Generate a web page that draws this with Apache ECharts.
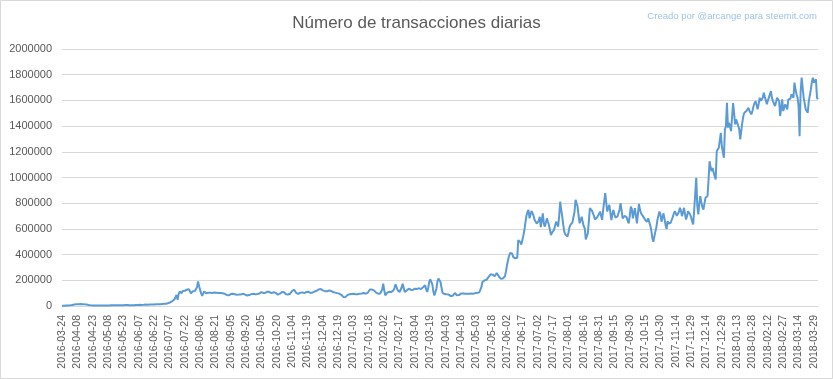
<!DOCTYPE html>
<html>
<head>
<meta charset="utf-8">
<script src="https://cdn.jsdelivr.net/npm/echarts@6/dist/echarts.min.js"></script>
<style>
html,body{margin:0;padding:0;background:#fff;}
#chart{width:833px;height:379px;}
</style>
</head>
<body>
<div id="chart"></div>
<script>
// Chart texts
const titleText = "Número de transacciones diarias";
const creditText = "Creado por @arcange para steemit.com";

// Category range: daily dates
const startDate = "2016-03-24";
const dayCount = 740; // 2016-03-24 .. 2018-04-02

// Y axis ticks
const yMin = 0;
const yMax = 2000000;
const yStep = 200000;

// Daily transaction counts, in 15-day blocks starting 2016-03-24
const tx2016a = [
  2500,3100,2800,3400,3900,3600,4200,4800,5100,6300,7900,9800,11200,12600,13100,
  13800,14200,13500,14600,13900,14100,13200,12800,13600,12100,10400,8200,6100,5300,4800,
  4500,4200,4600,4100,3900,4300,4000,3800,4400,4100,3900,4200,4000,4300,4500,
  4400,4700,4300,4900,4600,5000,4800,5200,4900,5300,5100,5600,5400,5900,6200,
  6000,6400,8100,13200,7200,5900,6300,7800,6600,6100,5800,7400,6900,8200,7100,
  7600,8900,9400,8700,10300,9600,8800,10900,11400,9800,10600,11900,10400,11200,12100,
  11800,12600,13400,12300,13900,14800,13600,15200,16100,14900,17300,18600,17900,20400,23100,
  26000,29500,34200,38600,44100,52800,61400,86900,47300,92100,112800,104600,99800,117500,108200
];
const tx2016b = [
  118600,121400,126300,138900,131200,124700,99600,104800,113900,110200,118400,121300,146800,191600,154200,
  139100,98400,79300,96200,112600,104300,99800,107900,102400,95100,103600,108700,101200,106800,104500,
  108200,103600,99400,101800,97300,100600,102100,98500,96200,94800,91300,86400,79200,83600,90100,
  92700,94100,95300,93800,91200,89600,88400,86900,89100,91700,90300,92600,95400,93100,88700,
  84200,81600,79300,85100,88700,92300,90800,95200,93600,91400,89800,94100,92300,97800,104600,
  107900,104200,101300,99600,103800,109400,112700,113300,106900,101400,99800,104600,107200,108300,102100,
  94600,88300,86900,95800,104200,109700,113100,106400,98200,91300,86700,89200,93400,95700,108900,
  117800,123600,125900,112400,101300,96200,94800,99700,104100,107600,105200,102300,99900,104500,109800,
  112600,110400,106800,101300,99800,104700,109300,113200,110800,118600,124900,129400,133800,131600,127200,
  121300,118700,115400,112900,114200,117800,120600,121400,117300,112600,108400,106900,104300,101800,100200,
  99600,96300,91800,87200,79400,70600,61300,68700,76800,84900,87600,91300,89400,93600,95200
];
const tx2017a = [
  94800,93200,91600,90400,92100,93700,96200,98400,97300,99800,101200,98600,95300,96900,104800,
  112400,128900,133600,127800,125300,121900,118400,104600,98300,96100,95400,97800,101200,128600,174300,
  121800,83400,92700,104300,108900,110600,107200,109800,113400,121700,139600,168700,148200,124300,110900,
  108700,117400,143800,173600,142100,109300,112800,121600,128900,134700,132100,126400,121800,125300,131700,
  134800,136200,133100,135900,137600,134300,131800,139400,146700,155200,161300,128600,109400,141800,187600,
  206300,212800,168400,112600,81300,78200,134600,192400,212900,201600,186800,142300,101700,94600,92800,
  91300,90600,92400,88700,84200,76900,70400,79800,92600,100800,94300,83700,75600,84900,93800,
  96400,92300,97800,99200,94600,91800,95300,98700,96100,93400,97200,99600,95800,98300,100400,
  99200,101800,104300,106900,109100,148600,187300,201400,199200,196800,203700,218900,226100,234800,246300,
  251800,244100,236200,231400,243700,256800,248300,229600,214200,212800,209600,214700,221300,231200,268400,
  317600,356200,389400,412600,421300,408700,381900,376400,371200,368900,374800,512300,524600,497100,478400,
  466200,548700,591300,648400,702600,731800,748300,682100,711600,739800,746200,701400,668900,654200,641700
];
const tx2017b = [
  630400,662800,694700,613200,668100,721400,642300,617800,649600,681900,655300,629800,589400,552600,571300,
  583200,591700,624800,656300,638100,617400,701600,812900,748300,694700,631200,578600,556900,548100,539400,
  568200,609700,631400,642600,651300,656800,731900,826300,798600,774100,702400,643800,671200,694600,652900,
  621300,603800,518400,541700,566200,658900,761300,748200,741600,734900,702300,673800,681400,689200,695700,
  718400,734600,701200,669400,748200,812600,878300,803900,735100,762800,786900,731400,669200,712600,747800,
  713900,688400,682300,696700,708200,749600,799800,743200,681900,694300,701800,708400,689600,662100,643300,
  701400,773900,756200,682100,721800,761400,702700,643200,718900,795300,748600,721300,708100,697400,682400,
  671200,664800,656300,681700,694900,627400,591300,531800,499200,538600,578400,612900,669100,702300,734800,
  712600,656400,689300,721400,724800,631200,598300,659700,642100,634400,647800,652300,691600,718200,738300,
  721400,702300,698800,731600,763900,742100,699300,728400,764200,716800,672900,701300,737800,724100,711900,
  689200,658300,633900,751400,873600,996800,778200,712400,798600,854900,803100,768300,751200,796400,841800,
  848700,856200,978300,1126800,1081200,1049300,1074600,1038200,1010400,984300,1204800,1218600,1231400,1289700,1347900
];
const tx2018 = [
  1243100,1198600,1153400,1372900,1399800,1581700,1388200,1426400,1412300,1361100,1468900,1579800,1501200,1413300,1452100,
  1451900,1402600,1374200,1296300,1362800,1426100,1478300,1503900,1511200,1517400,1528600,1542900,1517200,1503600,1491300,
  1521800,1556400,1578100,1594800,1563200,1530600,1571900,1620800,1597300,1582100,1619400,1659800,1628300,1601200,1569300,
  1598600,1621400,1648900,1672800,1618200,1594600,1573100,1556300,1587400,1621200,1607800,1595100,1478400,1538900,1608200,
  1517200,1543800,1569400,1551200,1529700,1607900,1595300,1612400,1646800,1633100,1621300,1738200,1686400,1648200,1621600,
  1556300,1322100,1661800,1776900,1701400,1621200,1574300,1529600,1518200,1503800,1594600,1581900,1683200,1741600,1776800,
  1738400,1752100,1764300,1621200,1608400
];

const values = [].concat(tx2016a, tx2016b, tx2017a, tx2017b, tx2018);

// Build daily date categories
function pad(n){return n<10?'0'+n:''+n;}
const dates = [];
{
  const p = startDate.split('-').map(Number);
  const d0 = Date.UTC(p[0], p[1]-1, p[2]);
  for (let i = 0; i < dayCount; i++) {
    const d = new Date(d0 + i*86400000);
    dates.push(d.getUTCFullYear()+'-'+pad(d.getUTCMonth()+1)+'-'+pad(d.getUTCDate()));
  }
}

const chart = echarts.init(document.getElementById('chart'), null, {renderer:'canvas'});
chart.setOption({
  animation: false,
  backgroundColor: '#ffffff',
  title: [{
    text: titleText,
    left: 'center',
    top: 10,
    textStyle: {fontFamily: 'Liberation Sans', fontSize: 17, fontWeight: 'normal', color: '#595959'}
  },{
    text: creditText,
    right: 11,
    top: 6,
    textStyle: {fontFamily: 'Liberation Sans', fontSize: 9.5, fontWeight: 'normal', color: '#9DC3E6'}
  }],
  graphic: [{
    type: 'rect',
    shape: {x: 0.5, y: 0.5, width: 832, height: 378},
    style: {fill: 'none', stroke: '#D9D9D9', lineWidth: 1},
    silent: true
  }],
  grid: {left: 62, right: 15, top: 49, bottom: 73, containLabel: false},
  xAxis: {
    type: 'category',
    data: dates,
    boundaryGap: false,
    axisLine: {show: true, lineStyle: {color: '#D9D9D9', width: 1}},
    axisTick: {show: false},
    axisLabel: {
      interval: 14,
      rotate: 90,
      margin: 9,
      fontFamily: 'Liberation Sans',
      fontSize: 10.5,
      color: '#595959'
    },
    splitLine: {show: false}
  },
  yAxis: {
    type: 'value',
    min: yMin,
    max: yMax,
    interval: yStep,
    axisLine: {show: false},
    axisTick: {show: false},
    axisLabel: {
      margin: 10,
      fontFamily: 'Liberation Sans',
      fontSize: 11,
      color: '#595959',
      formatter: function (v) { return String(v); }
    },
    splitLine: {show: true, lineStyle: {color: '#D9D9D9', width: 1}}
  },
  series: [{
    type: 'line',
    data: values,
    showSymbol: false,
    symbol: 'none',
    lineStyle: {color: '#5B9BD5', width: 2},
    itemStyle: {color: '#5B9BD5'},
    emphasis: {disabled: true}
  }]
});
</script>
</body>
</html>
